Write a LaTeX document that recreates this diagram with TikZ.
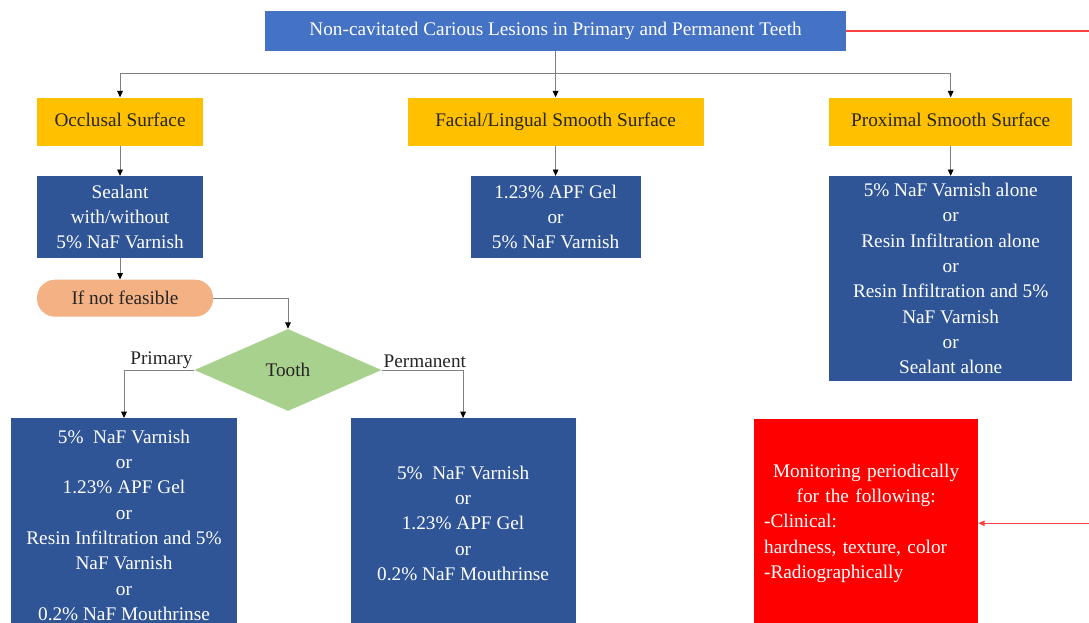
\documentclass[tikz,border=0pt]{standalone}
\usepackage{fontspec}
\setmainfont{Liberation Serif}
\usetikzlibrary{arrows.meta,positioning,shapes.geometric}
\definecolor{titleblue}{RGB}{68,114,196}
\definecolor{navyblue}{RGB}{47,85,151}
\definecolor{gold}{RGB}{255,192,0}
\definecolor{peach}{RGB}{244,177,131}
\definecolor{sage}{RGB}{169,209,142}
\definecolor{alertred}{RGB}{255,0,0}
\definecolor{linegray}{RGB}{128,128,128}

\begin{document}
\begin{tikzpicture}[
font=\fontsize{13.7}{18}\selectfont,
head/.style={fill=titleblue, text=white, minimum width=14.525cm, minimum height=1cm, inner sep=0pt, text height=0.8em, text depth=0.1em},
surface/.style={fill=gold, text=black!85, minimum height=1.2cm, inner sep=0pt, text height=0.8em, text depth=0.1em},
treat/.style={fill=navyblue, text=white, align=center, inner sep=0pt},
cond/.style={fill=peach, text=black!85, rounded corners=0.45cm, minimum width=4.4cm, minimum height=0.925cm, inner sep=0pt},
decision/.style={diamond, fill=sage, text=black!85, minimum width=4.675cm, minimum height=2.05cm, inner sep=0pt},
monitor/.style={fill=alertred, text=white, minimum width=5.6cm, minimum height=5.2cm, text width=5.1cm, inner sep=0.25cm},
arrow/.style={-{Triangle[length=4.5pt, width=4pt, color=black]}, line width=0.6pt, linegray},
alertline/.style={line width=0.8pt, draw=alertred!75},
alertarrow/.style={alertline, -{Triangle[length=4.5pt, width=4pt]}}
]
\clip (0,0) rectangle (27.225,-15.55);
\node[head] (title) at (13.89,-0.775) {Non-cavitated Carious Lesions in Primary and Permanent Teeth};
\node[surface, minimum width=7.4cm, below=1.15cm of title] (facial) {Facial/Lingual Smooth Surface};
\node[surface, minimum width=4.15cm, left=5.1cm of facial] (occlusal) {Occlusal Surface};
\node[surface, minimum width=6.075cm, right=3.125cm of facial] (proximal) {Proximal Smooth Surface};

\node[treat, minimum width=4.15cm, minimum height=2.05cm, below=0.75cm of occlusal] (sealant) {Sealant\\with/without\\5\% NaF Varnish};
\node[treat, minimum width=4.25cm, minimum height=2.05cm, below=0.75cm of facial] (gelfacial) {1.23\% APF Gel\\or\\5\% NaF Varnish};
\node[treat, minimum width=6.075cm, minimum height=5.125cm, below=0.75cm of proximal] (proxopts) {5\% NaF Varnish alone\\or\\Resin Infiltration alone\\or\\Resin Infiltration and 5\%\\NaF Varnish\\or\\Sealant alone};

\node[cond, below right=0.525cm and 0cm of sealant.south west] (ifnot) {If not feasible};
\node[decision] (tooth) at (7.2,-9.25) {Tooth};

\node[treat, minimum width=5.65cm, minimum height=5.35cm, anchor=north] (primopts) at (3.1,-10.45) {5\%~~NaF Varnish\\or\\1.23\% APF Gel\\or\\Resin Infiltration and 5\%\\NaF Varnish\\or\\0.2\% NaF Mouthrinse};
\node[treat, minimum width=5.625cm, minimum height=5.25cm, right=2.825cm of primopts.north east, anchor=north west] (permopts) {5\%~~NaF Varnish\\or\\1.23\% APF Gel\\or\\0.2\% NaF Mouthrinse};
\node[monitor, right=4.45cm of permopts] (redbox) {{\centering Monitoring periodically\\for the following:\par}-Clinical:\\hardness, texture, color\\-Radiographically};

% connectors
\coordinate[below=0.55cm of title.south] (split);
\coordinate (edgetop) at (27.225,-0.775);
\coordinate (edgemid) at (redbox.east -| edgetop);
\draw[arrow] (title) -- (facial);
\draw[arrow] (split) -| (occlusal);
\draw[arrow] (split) -| (proximal);
\draw[arrow] (occlusal) -- (sealant);
\draw[arrow] (facial) -- (gelfacial);
\draw[arrow] (proximal) -- (proxopts);
\draw[arrow] (sealant.south) -- (sealant.south |- ifnot.north);
\draw[arrow] (ifnot) -| (tooth);
\draw[arrow] (tooth) -| node[pos=0, above left, inner sep=1pt, text=black!85]{Primary} (primopts);
\draw[arrow] (tooth) -| node[pos=0, above right, inner sep=1pt, text=black!85]{Permanent} (permopts);
\draw[alertline] (title) -- (edgetop);
\draw[alertarrow] (edgemid) -- (redbox);
\end{tikzpicture}
\end{document}
